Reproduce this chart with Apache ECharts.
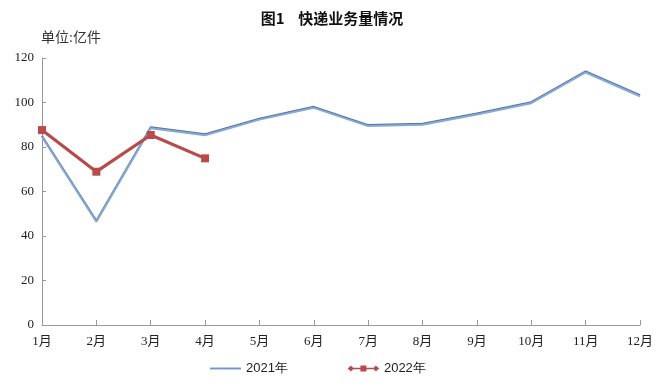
<!DOCTYPE html>
<html><head><meta charset="utf-8">
<script src="https://cdn.jsdelivr.net/npm/echarts@6/dist/echarts.min.js"></script>
<style>html,body{margin:0;padding:0;background:#fff}#c{width:664px;height:386px}</style>
</head><body><div id="c"></div>
<script>
const categories = ['1月','2月','3月','4月','5月','6月','7月','8月','9月','10月','11月','12月'];
const series2021 = [84.5, 46.4, 88.4, 85.3, 92.3, 97.6, 89.4, 90.0, 94.6, 99.7, 113.5, 102.8];
const series2022 = [87.6, 68.9, 85.4, 74.9];
const yTicks = [0, 20, 40, 60, 80, 100, 120];

const chart = echarts.init(document.getElementById('c'));
const serif = '"Liberation Serif","Noto Sans CJK SC",serif';
chart.setOption({
  backgroundColor: '#fff',
  animation: false,
  title: {
    text: '图1    快递业务量情况', left: 'center', top: 6,
    textStyle: {fontSize: 15, fontWeight: 'bold', color: '#111', fontFamily: '"Noto Sans CJK SC",sans-serif'}
  },
  graphic: [{type: 'text', left: 41, top: 31, style: {text: '单位:亿件', fontSize: 14, fill: '#333', fontFamily: serif}}],
  legend: {
    bottom: 6, left: 205, itemGap: 60, itemWidth: 31, itemHeight: 10,
    textStyle: {fontSize: 13, color: '#222', fontFamily: '"Liberation Sans",sans-serif'},
    data: [
      {name: '2021年', icon: 'path://M0,4h36v2.2h-36z', itemStyle: {color: '#6f99cc'}},
      {name: '2022年', icon: 'path://M0,4h36v2h-36z M0,5L3.5,1.5L7,5L3.5,8.5z M14.5,1.5h7v7h-7z M29,5L32.5,1.5L36,5L32.5,8.5z', itemStyle: {color: '#b84a4a'}}
    ]
  },
  grid: {left: 42, right: 24, top: 58, bottom: 61},
  xAxis: {
    type: 'category', data: categories, boundaryGap: false,
    axisLine: {lineStyle: {color: '#999', width: 1}},
    axisTick: {inside: true, length: 5, lineStyle: {color: '#999'}, alignWithLabel: true},
    axisLabel: {color: '#222', fontSize: 13, fontFamily: serif, margin: 10, interval: 0}
  },
  yAxis: {
    type: 'value', min: 0, max: 120, interval: 20,
    axisLine: {show: true, lineStyle: {color: '#999'}},
    axisTick: {show: true, inside: true, length: 4, lineStyle: {color: '#999'}},
    splitLine: {show: false},
    axisLabel: {color: '#222', fontSize: 13, fontFamily: serif, margin: 8,
      formatter: v => yTicks.includes(v) ? String(v) : ''}
  },
  series: [
    {name: '2021年', type: 'line', data: series2021, symbol: 'none',
     lineStyle: {color: '#86aad8', width: 2, shadowColor: 'rgba(50,80,130,0.8)', shadowBlur: 0, shadowOffsetY: -1},
     itemStyle: {color: '#6f99cc'}},
    {name: '2022年', type: 'line', data: series2022, symbol: 'rect', symbolSize: 8, showAllSymbol: true,
     lineStyle: {color: '#b84a4a', width: 3.2}, itemStyle: {color: '#b84a4a'}}
  ]
});
</script></body></html>
